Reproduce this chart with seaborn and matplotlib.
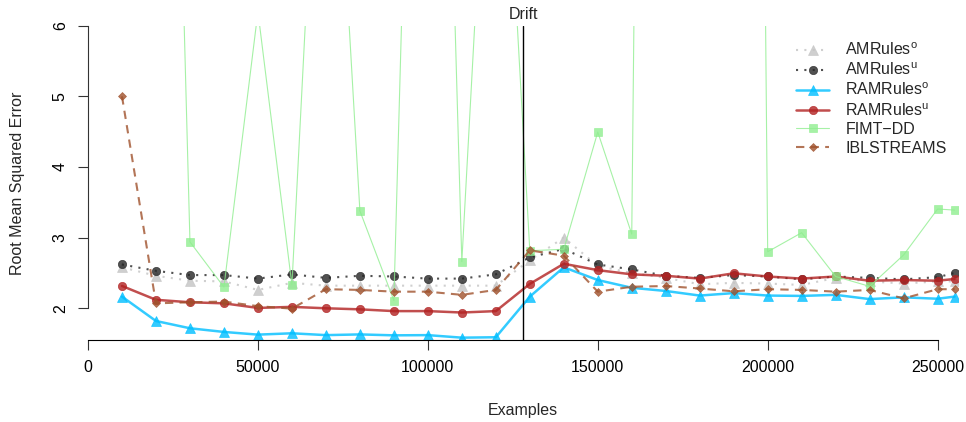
import matplotlib
matplotlib.use("Agg")
import matplotlib.pyplot as plt
import seaborn as sns
import pandas as pd

# ---- data ----
examples = [10000, 20000, 30000, 40000, 50000, 60000, 70000, 80000, 90000, 100000,
            110000, 120000, 130000, 140000, 150000, 160000, 170000, 180000, 190000,
            200000, 210000, 220000, 230000, 240000, 250000, 255000]
amrules_o = [2.58, 2.46, 2.39, 2.38, 2.26, 2.36, 2.32, 2.32, 2.32, 2.32, 2.32, 2.32, 2.68,
             3.00, 2.60, 2.50, 2.43, 2.34, 2.36, 2.35, 2.33, 2.43, 2.38, 2.35, 2.38, 2.38]
amrules_u = [2.62, 2.53, 2.47, 2.47, 2.42, 2.48, 2.43, 2.46, 2.45, 2.42, 2.42, 2.48, 2.72,
             2.84, 2.62, 2.55, 2.46, 2.43, 2.47, 2.45, 2.41, 2.45, 2.43, 2.41, 2.44, 2.50]
ramrules_o = [2.165, 1.82, 1.717, 1.665, 1.627, 1.646, 1.62, 1.63, 1.617, 1.62, 1.584, 1.59,
              2.165, 2.58, 2.40, 2.29, 2.245, 2.18, 2.215, 2.18, 2.175, 2.19, 2.13, 2.155,
              2.135, 2.165]
ramrules_u = [2.316, 2.12, 2.085, 2.07, 2.005, 2.02, 2.0, 1.985, 1.96, 1.96, 1.94, 1.96,
              2.345, 2.63, 2.54, 2.48, 2.46, 2.42, 2.495, 2.45, 2.42, 2.45, 2.39, 2.40,
              2.39, 2.415]
fimt_dd = [25.0, 21.0, 2.94, 2.30, 6.2, 2.33, 11.7, 3.38, 2.11, 19.5, 2.66, 11.5, 2.815,
           2.835, 4.495, 3.05, 50.0, 50.0, 55.0, 2.80, 3.07, 2.45, 2.31, 2.755, 3.405, 3.39]
iblstreams = [5.0, 2.07, 2.085, 2.095, 2.03, 1.995, 2.27, 2.26, 2.235, 2.235, 2.19, 2.26,
              2.82, 2.745, 2.235, 2.305, 2.315, 2.28, 2.24, 2.27, 2.26, 2.235, 2.26, 2.14,
              2.27, 2.27]

series_names = [r"AMRules$^{\mathrm{o}}$", r"AMRules$^{\mathrm{u}}$",
                r"RAMRules$^{\mathrm{o}}$", r"RAMRules$^{\mathrm{u}}$",
                "FIMT\u2212DD", "IBLSTREAMS"]
series_values = [amrules_o, amrules_u, ramrules_o, ramrules_u, fimt_dd, iblstreams]

x_ticks = [0, 50000, 100000, 150000, 200000, 250000]
x_ticklabels = ["0", "50000", "100000", "150000", "200000", "250000"]
y_ticks = [2, 3, 4, 5, 6]
y_ticklabels = ["2", "3", "4", "5", "6"]
drift_at = 128000

# ---- styles ----
styles = [
    dict(color="#c4c4c4", marker="^", linestyle=(0, (1, 3)), linewidth=1.5, markersize=7),
    dict(color="#262626", marker="o", linestyle=(0, (1, 3)), linewidth=1.5, markersize=6),
    dict(color="#00BFFF", marker="^", linestyle="-", linewidth=1.8, markersize=7),
    dict(color="#B22222", marker="o", linestyle="-", linewidth=1.8, markersize=6),
    dict(color="#90EE90", marker="s", linestyle="-", linewidth=0.8, markersize=5.5),
    dict(color="#A0522D", marker="D", linestyle=(0, (4, 3)), linewidth=1.5, markersize=4),
]

FS = 11.5

sns.set_style("ticks")
plt.rcParams["font.family"] = ["Liberation Sans", "DejaVu Sans"]
plt.rcParams["mathtext.fontset"] = "custom"
plt.rcParams["mathtext.rm"] = "Liberation Sans"
plt.rcParams["mathtext.it"] = "Liberation Sans:italic"

fig = plt.figure(figsize=(9.66, 4.22), dpi=100)
ax = fig.add_axes([88 / 966, 1 - 340 / 422, (958 - 88) / 966, (340 - 25.7) / 422])

for name, vals, st in zip(series_names, series_values, styles):
    df = pd.DataFrame({"Examples": examples, "RMSE": vals})
    sns.lineplot(data=df, x="Examples", y="RMSE", ax=ax, label=name,
                 color=st["color"], marker=st["marker"], linestyle=st["linestyle"],
                 linewidth=st["linewidth"], markersize=st["markersize"],
                 markeredgecolor=st["color"], markeredgewidth=0.5, alpha=0.8)

ax.axvline(drift_at, color="black", linewidth=1)
ax.annotate("Drift", xy=(drift_at, 6), xytext=(0, 2.5), textcoords="offset points",
            ha="center", va="bottom", fontsize=FS, annotation_clip=False)

ax.set_xlim(0, 256000)
ax.set_ylim(1.551, 6)
ax.set_xticks(x_ticks)
ax.set_xticklabels(x_ticklabels)
ax.set_yticks(y_ticks)
ax.set_yticklabels(y_ticklabels)
ax.tick_params(axis="both", labelsize=FS, length=7.5, width=0.8, colors="#333333",
               labelcolor="black", pad=7)
ax.tick_params(axis="y", labelrotation=90)
for lab in ax.get_yticklabels():
    lab.set_va("center")

sns.despine(ax=ax)
ax.spines["left"].set_bounds(2, 6)
ax.spines["bottom"].set_bounds(0, 250000)
ax.spines["left"].set_color("#333333")
ax.spines["bottom"].set_color("black")
ax.spines["left"].set_linewidth(0.8)
ax.spines["bottom"].set_linewidth(0.8)

ax.set_xlabel("Examples", fontsize=FS, labelpad=20)
ax.set_ylabel("Root Mean Squared Error", fontsize=FS, labelpad=20)

leg = ax.legend(loc="upper right", frameon=False, fontsize=FS, handlelength=2.1,
                labelspacing=0.22, borderaxespad=0.3, bbox_to_anchor=(1.0, 0.985),
                handletextpad=1.0)

fig.savefig("out.png", dpi=100)
